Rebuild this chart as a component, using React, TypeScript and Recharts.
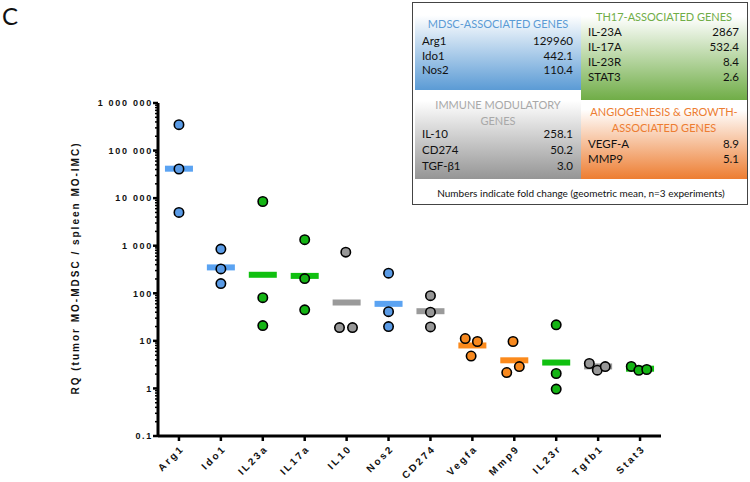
import React from "react";
import { ScatterChart, Scatter, XAxis, YAxis } from "recharts";

// genes on the x axis
const genes = ["Arg1", "Ido1", "IL23a", "IL17a", "IL10", "Nos2", "CD274", "Vegfa", "Mmp9", "IL23r", "Tgfb1", "Stat3"];
const geneGroup = ["mdsc", "mdsc", "th17", "th17", "immune", "mdsc", "immune", "angio", "angio", "th17", "immune", "th17"];

// RQ of each experiment (n=3)
const replicates = [
  [351000, 41000, 5000],
  [850, 325, 160],
  [8500, 81, 21],
  [1340, 204, 45],
  [730, 19, 19],
  [265, 41, 20],
  [89, 40, 19.6],
  [11.2, 9.7, 4.8],
  [9.7, 2.16, 2.88],
  [21.7, 2.06, 0.97],
  [3.34, 2.42, 2.88],
  [2.9, 2.4, 2.5],
];
// horizontal spread of overlapping dots (fraction of a category)
const jitter = [
  [0, 0, 0],
  [0, 0, 0],
  [0, 0, 0],
  [0, 0, 0],
  [-0.02, -0.17, 0.14],
  [0, 0, 0],
  [0, 0, 0],
  [-0.17, 0.12, -0.03],
  [-0.03, -0.18, 0.12],
  [0, 0, 0],
  [-0.21, -0.02, 0.17],
  [-0.21, -0.03, 0.16],
];
// geometric means
const means = [41600, 350, 245, 232, 64, 60, 42, 8.0, 3.9, 3.5, 2.9, 2.6];

const yMajorTicks = [0.1, 1, 10, 100, 1000, 10000, 100000, 1000000];
const yTickLabels = ["0.1", "1", "10", "100", "1 000", "10 000", "100 000", "1 000 000"];

// table values
const mdscRows = [["Arg1", "129960"], ["Ido1", "442.1"], ["Nos2", "110.4"]];
const th17Rows = [["IL-23A", "2867"], ["IL-17A", "532.4"], ["IL-23R", "8.4"], ["STAT3", "2.6"]];
const immuneRows = [["IL-10", "258.1"], ["CD274", "50.2"], ["TGF-β1", "3.0"]];
const angioRows = [["VEGF-A", "8.9"], ["MMP9", "5.1"]];

const dotColors: Record<string, string> = {
  mdsc: "#5a9be6",
  th17: "#14b414",
  immune: "#979797",
  angio: "#f7891f",
};
const barColors: Record<string, string> = {
  mdsc: "#5ba3f2",
  th17: "#10c010",
  immune: "#9a9a9a",
  angio: "#fb8a1c",
};

const minorTicks: number[] = [];
for (let d = -1; d < 6; d++) {
  for (let m = 2; m <= 9; m++) minorTicks.push(m * Math.pow(10, d));
}
const yTicks = [...yMajorTicks, ...minorTicks].sort((a, b) => a - b);

const pointData = replicates.flatMap((vals, i) =>
  vals.map((v, j) => ({ x: i + jitter[i][j], y: v, color: dotColors[geneGroup[i]] }))
);
const meanData = means.map((m, i) => ({ x: i, y: m, color: barColors[geneGroup[i]] }));

const axisFont = "'Liberation Sans', Arial, sans-serif";

function YTick({ x, y, payload }: any) {
  const v = payload.value;
  const idx = yMajorTicks.findIndex((t) => Math.abs(t - v) / t < 1e-6);
  if (idx < 0) {
    return <line x1={x - 3} x2={x} y1={y} y2={y} stroke="#000" strokeWidth={1.5} />;
  }
  return (
    <g>
      <line x1={x - 5} x2={x} y1={y} y2={y} stroke="#000" strokeWidth={2.5} />
      <text
        x={x - 5}
        y={y}
        dy="0.36em"
        textAnchor="end"
        fontFamily={axisFont}
        fontWeight="bold"
        fontSize={9}
        letterSpacing={1.7}
        fill="#111"
      >
        {yTickLabels[idx]}
      </text>
    </g>
  );
}

function XTick({ x, y, payload }: any) {
  const ax = x + 6;
  const ay = y + 13;
  return (
    <g>
      <line x1={x} x2={x} y1={y} y2={y + 5} stroke="#000" strokeWidth={2.5} />
      <text
        x={ax}
        y={ay}
        textAnchor="end"
        fontFamily={axisFont}
        fontWeight="bold"
        fontSize={10}
        letterSpacing={2.4}
        fill="#111"
        transform={`rotate(-45, ${ax}, ${ay})`}
      >
        {genes[payload.value]}
      </text>
    </g>
  );
}

function MeanBar({ cx, cy, payload }: any) {
  return <rect x={cx - 14} y={cy - 3} width={28} height={6} fill={payload.color} />;
}

function Dot({ cx, cy, payload }: any) {
  return <circle cx={cx} cy={cy} r={4.7} fill={payload.color} stroke="#000" strokeWidth={1.6} />;
}

function YLabel() {
  return (
    <text
      x={75}
      y={268}
      textAnchor="middle"
      dy="0.35em"
      fontFamily={axisFont}
      fontWeight="bold"
      fontSize={10}
      letterSpacing={2.0}
      fill="#111"
      transform="rotate(-90, 75, 268)"
    >
      RQ  (tumor MO-MDSC / spleen MO-IMC)
    </text>
  );
}

const tableFont = "Lato, 'Open Sans', sans-serif";

function Panel({ left, top, width, height, color, title, titleColor, titleTop, rows, rowTop, rowStep }: any) {
  return (
    <div
      style={{
        position: "absolute",
        left,
        top,
        width,
        height,
        background: `linear-gradient(to bottom, #ffffff 0%, #ffffff 12%, ${color} 100%)`,
      }}
    >
      {title.map((t: string, k: number) => (
        <div
          key={t}
          style={{
            position: "absolute",
            left: 0,
            width,
            top: titleTop + k * 16 - top - 8,
            lineHeight: "16px",
            textAlign: "center",
            fontSize: 11,
            color: titleColor,
          }}
        >
          {t}
        </div>
      ))}
      {rows.map((r: string[], k: number) => (
        <div
          key={r[0]}
          style={{
            position: "absolute",
            left: 7,
            width: width - 15,
            top: rowTop + k * rowStep - top - 8,
            lineHeight: "16px",
            fontSize: 11.5,
            color: "#111",
            display: "flex",
            justifyContent: "space-between",
          }}
        >
          <span>{r[0]}</span>
          <span>{r[1]}</span>
        </div>
      ))}
    </div>
  );
}

export default function App() {
  return (
    <div style={{ position: "fixed", left: 0, top: 0, width: 750, height: 482, background: "#fff", overflow: "hidden" }}>
      <div style={{ position: "absolute", left: 2, top: 0, fontFamily: tableFont, fontSize: 24, lineHeight: "32px", color: "#111" }}>
        C
      </div>
      <ScatterChart width={750} height={482} margin={{ top: 103, right: 89, left: 0, bottom: 0 }}>
        <XAxis
          type="number"
          dataKey="x"
          domain={[-0.5, 11.5]}
          ticks={genes.map((_, i) => i)}
          interval={0}
          height={46}
          tickSize={0}
          tickMargin={0}
          tickLine={false}
          axisLine={{ stroke: "#000", strokeWidth: 3 }}
          tick={<XTick />}
        />
        <YAxis
          type="number"
          dataKey="y"
          scale="log"
          domain={[0.1, 1000000]}
          allowDataOverflow
          ticks={yTicks}
          interval={0}
          width={158}
          tickSize={0}
          tickMargin={0}
          tickLine={false}
          axisLine={{ stroke: "#000", strokeWidth: 3 }}
          tick={<YTick />}
          label={{ content: () => <YLabel /> }}
        />
        <Scatter data={meanData} shape={<MeanBar />} isAnimationActive={false} />
        <Scatter data={pointData} shape={<Dot />} isAnimationActive={false} />
      </ScatterChart>
      <div
        style={{
          position: "absolute",
          left: 412,
          top: 2,
          width: 336,
          height: 203,
          border: "1.5px solid #444",
          boxSizing: "border-box",
          background: "#fff",
          fontFamily: tableFont,
        }}
      >
        <div style={{ position: "absolute", left: -412, top: -2 }}>
          <Panel left={414} top={4} width={166} height={85} color="#5b9bd5" title={["MDSC-ASSOCIATED GENES"]} titleColor="#5b9bd5" titleTop={23} rows={mdscRows} rowTop={40} rowStep={14.5} />
          <Panel left={580} top={4} width={166} height={95} color="#70ad47" title={["TH17-ASSOCIATED GENES"]} titleColor="#70ad47" titleTop={16} rows={th17Rows} rowTop={31} rowStep={15} />
          <Panel left={414} top={89} width={166} height={89} color="#959595" title={["IMMUNE MODULATORY", "GENES"]} titleColor="#a8a8a8" titleTop={104} rows={immuneRows} rowTop={133} rowStep={16} />
          <Panel left={580} top={99} width={166} height={79} color="#ed7d31" title={["ANGIOGENESIS & GROWTH-", "ASSOCIATED GENES"]} titleColor="#ed7d31" titleTop={111} rows={angioRows} rowTop={143} rowStep={15} />
          <div
            style={{
              position: "absolute",
              left: 414,
              width: 332,
              top: 184,
              lineHeight: "16px",
              textAlign: "center",
              fontSize: 10,
              color: "#111",
            }}
          >
            Numbers indicate fold change (geometric mean, n=3 experiments)
          </div>
        </div>
      </div>
    </div>
  );
}
